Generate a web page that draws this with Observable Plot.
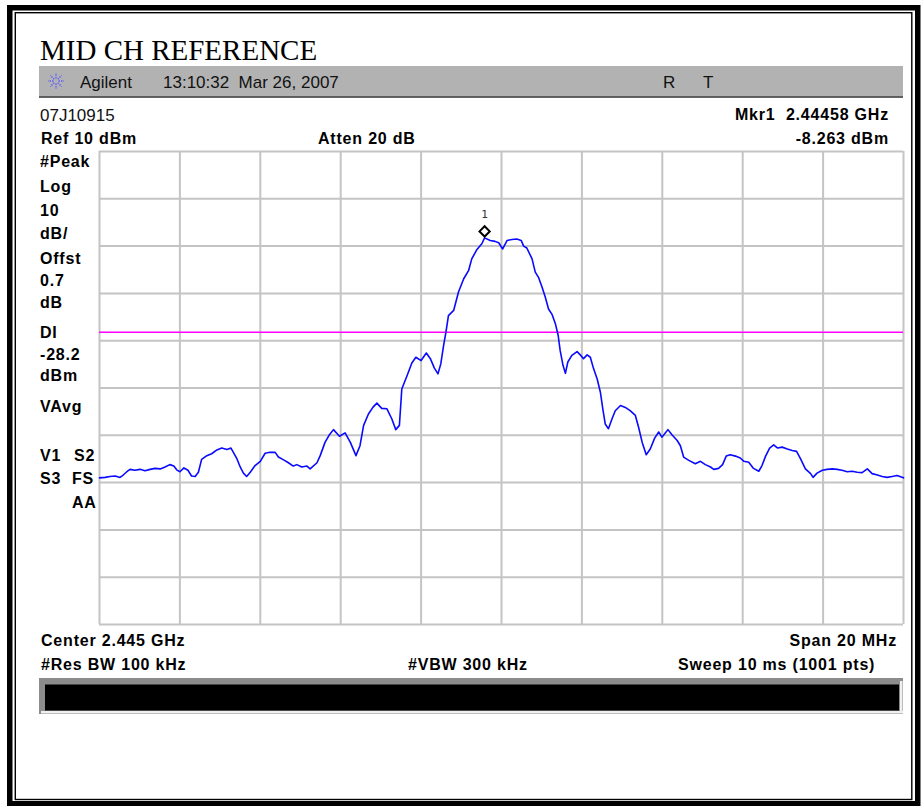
<!DOCTYPE html>
<html><head><meta charset="utf-8">
<script src="https://cdn.jsdelivr.net/npm/d3@7"></script>
<script src="https://cdn.jsdelivr.net/npm/@observablehq/plot@0.6"></script>
<style>
body{margin:0;background:#fff}
#page{position:relative;width:923px;height:806px;overflow:hidden;background:#fff}
#chart{position:absolute;left:0;top:140px}
#overlay{position:absolute;left:0;top:0}
</style>
</head><body>
<div id="page"><div id="chart"></div><svg id="overlay" width="923" height="806"></svg></div>
<script>
// ---- data ----
const freqMHz = [
2435.00,2435.14,2435.26,2435.39,2435.51,2435.59,2435.68,2435.76,2435.88,2436.01,
2436.13,2436.26,2436.38,2436.51,2436.63,2436.75,2436.85,2436.92,2437.00,2437.10,
2437.20,2437.29,2437.38,2437.46,2437.54,2437.67,2437.79,2437.92,2438.04,2438.17,
2438.27,2438.33,2438.42,2438.50,2438.58,2438.66,2438.75,2438.87,2439.00,2439.12,
2439.24,2439.37,2439.45,2439.58,2439.70,2439.82,2439.91,2440.03,2440.16,2440.24,
2440.41,2440.49,2440.61,2440.71,2440.82,2440.97,2441.11,2441.24,2441.38,2441.48,
2441.57,2441.69,2441.80,2441.90,2442.02,2442.15,2442.27,2442.37,2442.46,2442.52,
2442.65,2442.77,2442.87,2443.00,2443.13,2443.23,2443.33,2443.42,2443.49,2443.56,
2443.62,2443.68,2443.81,2443.93,2444.06,2444.18,2444.26,2444.39,2444.51,2444.58,
2444.72,2444.84,2444.93,2445.03,2445.14,2445.26,2445.38,2445.49,2445.55,2445.63,
2445.76,2445.84,2445.92,2446.01,2446.09,2446.17,2446.26,2446.34,2446.41,2446.46,
2446.53,2446.59,2446.65,2446.75,2446.88,2446.96,2447.04,2447.13,2447.21,2447.29,
2447.38,2447.46,2447.52,2447.58,2447.66,2447.75,2447.83,2447.96,2448.08,2448.20,
2448.33,2448.41,2448.50,2448.60,2448.70,2448.81,2448.91,2448.99,2449.14,2449.24,
2449.37,2449.45,2449.53,2449.66,2449.82,2449.95,2450.07,2450.20,2450.28,2450.40,
2450.50,2450.59,2450.69,2450.82,2450.94,2451.03,2451.15,2451.27,2451.40,2451.48,
2451.57,2451.67,2451.77,2451.87,2451.98,2452.11,2452.23,2452.34,2452.44,2452.56,
2452.69,2452.75,2452.85,2452.98,2453.10,2453.23,2453.35,2453.47,2453.60,2453.72,
2453.85,2453.97,2454.10,2454.22,2454.35,2454.47,2454.59,2454.72,2454.84,2455.00];
const levelDbm = [
-59.0,-58.9,-58.7,-58.6,-58.9,-58.4,-57.7,-57.2,-57.4,-57.2,
-57.5,-57.2,-57.0,-57.1,-56.7,-56.2,-56.5,-57.3,-57.7,-56.9,
-57.4,-58.6,-58.7,-57.8,-55.1,-54.3,-53.9,-53.1,-52.7,-53.0,
-52.7,-53.6,-55.0,-56.7,-58.0,-58.7,-57.8,-56.4,-55.5,-53.8,
-53.6,-53.6,-54.6,-55.2,-55.8,-56.5,-56.2,-56.7,-56.5,-57.1,
-55.8,-54.3,-51.5,-50.0,-48.8,-50.2,-49.5,-51.5,-54.3,-52.2,
-47.9,-45.5,-44.1,-43.2,-44.3,-44.4,-46.5,-48.8,-47.9,-40.2,
-37.4,-34.7,-33.5,-34.2,-32.6,-33.8,-35.8,-37.0,-34.9,-31.0,
-28.1,-24.7,-23.6,-19.7,-16.9,-15.2,-12.7,-10.7,-9.5,-8.26,
-8.8,-9.0,-9.3,-10.6,-8.8,-8.6,-8.5,-8.8,-10.0,-10.4,
-12.7,-15.5,-16.6,-18.7,-20.8,-23.3,-24.5,-26.4,-28.9,-32.1,
-35.2,-36.9,-34.5,-33.1,-32.3,-33.0,-33.8,-33.0,-33.5,-35.9,
-38.1,-40.9,-44.4,-47.6,-48.6,-46.5,-44.8,-43.7,-44.1,-44.8,
-45.8,-48.3,-51.5,-54.1,-52.9,-50.6,-49.3,-50.4,-48.8,-49.9,
-51.1,-52.2,-54.6,-55.3,-56.0,-55.5,-56.2,-56.7,-57.2,-57.0,
-56.2,-54.4,-54.1,-54.4,-54.8,-55.5,-55.7,-57.0,-57.6,-56.4,
-54.4,-52.7,-52.0,-52.7,-52.5,-52.9,-53.2,-53.4,-55.0,-57.1,
-58.1,-58.9,-58.0,-57.4,-57.2,-57.1,-57.2,-57.4,-57.7,-57.6,
-57.8,-57.9,-57.1,-58.1,-58.4,-58.7,-58.9,-58.7,-58.5,-59.0];
const xGridMHz = [2435,2437,2439,2441,2443,2445,2447,2449,2451,2453,2455];
const yGridDbm = [10,0,-10,-20,-30,-40,-50,-60,-70,-80,-90];
const displayLineDbm = [-28.2];
const markerFreqMHz = [2444.58];
const markerLevelDbm = [-8.263];
const markerNames = ["1"];

const titleText = "MID CH REFERENCE";
const headerTexts = ["Agilent", "13:10:32  Mar 26, 2007", "R", "T"];
const infoTexts = ["07J10915", "Mkr1  2.44458 GHz", "Ref 10 dBm", "Atten 20 dB", "-8.263 dBm"];
const sideLabels = ["#Peak","Log","10","dB/","Offst","0.7","dB","DI","-28.2","dBm","VAvg","V1","S2","S3","FS","AA"];
const footerTexts = ["Center 2.445 GHz", "Span 20 MHz", "#Res BW 100 kHz", "#VBW 300 kHz", "Sweep 10 ms (1001 pts)"];

// ---- chart ----
const trace = freqMHz.map((f, i) => ({f, dbm: levelDbm[i]}));
const marker = markerFreqMHz.map((f, i) => ({f, dbm: markerLevelDbm[i], name: markerNames[i]}));

const chart = Plot.plot({
  width: 923, height: 500,
  marginLeft: 99, marginRight: 20, marginTop: 11, marginBottom: 16,
  style: {background: "transparent", overflow: "visible"},
  x: {domain: [2435, 2455], axis: null},
  y: {domain: [-90, 10], axis: null},
  marks: [
    Plot.ruleX(xGridMHz, {stroke: "#c4c4c4", strokeWidth: 2}),
    Plot.ruleY(yGridDbm, {stroke: "#c4c4c4", strokeWidth: 2}),
    Plot.ruleY(displayLineDbm, {stroke: "#ff00ff", strokeWidth: 1.5}),
    Plot.line(trace, {x: "f", y: "dbm", stroke: "#0a0aff", strokeWidth: 1.6}),
    Plot.dot(marker, {x: "f", y: "dbm", symbol: "diamond2", r: 4.6, stroke: "#000", strokeWidth: 2, fill: "#fff", dy: -6.5}),
    Plot.text(marker, {x: "f", y: "dbm", text: "name", dy: -23, fontSize: 11, fill: "#333", fontFamily: "DejaVu Sans Mono"})
  ]
});
document.getElementById("chart").appendChild(chart);

// ---- page decorations and text ----
const svg = d3.select("#overlay");
// document double border
svg.append("rect").attr("x", 9.75).attr("y", 7.75).attr("width", 908).attr("height", 796)
  .attr("fill", "none").attr("stroke", "#000").attr("stroke-width", 5.5);
svg.append("rect").attr("x", 15.3).attr("y", 12.7).attr("width", 896.5).attr("height", 786.8)
  .attr("fill", "none").attr("stroke", "#000").attr("stroke-width", 1.4);
// header bar
svg.append("rect").attr("x", 39).attr("y", 66).attr("width", 864).attr("height", 30.5).attr("fill", "#b2b2b2");
svg.append("line").attr("x1", 39).attr("x2", 903).attr("y1", 97).attr("y2", 97).attr("stroke", "#333").attr("stroke-width", 1.5);
// Agilent logo burst
const logo = svg.append("g").attr("transform", "translate(56,81)");
d3.range(8).forEach(k => {
  const a = k * Math.PI / 4;
  logo.append("line").attr("x1", 2.5 * Math.cos(a)).attr("y1", 2.5 * Math.sin(a))
    .attr("x2", 8 * Math.cos(a)).attr("y2", 8 * Math.sin(a))
    .attr("stroke", "#5a5aff").attr("stroke-width", 1.3).attr("stroke-dasharray", "1.4,1.1");
});
// bottom status bar
svg.append("rect").attr("x", 39).attr("y", 678).attr("width", 864).attr("height", 36).attr("fill", "#8c8c8c");
svg.append("rect").attr("x", 41).attr("y", 711).attr("width", 862).attr("height", 2.5).attr("fill", "#f0f0f0");
svg.append("rect").attr("x", 900).attr("y", 681).attr("width", 2.5).attr("height", 32).attr("fill", "#f0f0f0");
svg.append("rect").attr("x", 45).attr("y", 684.5).attr("width", 854).attr("height", 26).attr("fill", "#000");

function txt(t, x, y, o = {}) {
  svg.append("text").attr("x", x).attr("y", y).text(t)
    .attr("font-family", o.family || "'Liberation Sans', Arial, sans-serif")
    .attr("font-size", o.size || 16)
    .attr("font-weight", o.weight || "bold")
    .attr("letter-spacing", o.ls != null ? o.ls : 0.8)
    .attr("text-anchor", o.anchor || "start")
    .attr("fill", o.fill || "#000")
    .style("white-space", "pre");
}
const reg = {weight: "normal", size: 17, ls: 0, fill: "#111"};
txt(titleText, 40, 60, {family: "'Liberation Serif', 'Times New Roman', serif", size: 29, weight: "normal", ls: 0});
txt(headerTexts[0], 80, 88, reg);
txt(headerTexts[1], 163, 88, reg);
txt(headerTexts[2], 663, 88, reg);
txt(headerTexts[3], 703, 88, reg);
txt(infoTexts[0], 40, 120.5, reg);
txt(infoTexts[1], 889, 120, {anchor: "end"});
txt(infoTexts[2], 41, 144);
txt(infoTexts[3], 318, 144);
txt(infoTexts[4], 889, 143.5, {anchor: "end"});

const sideX = [40,40,40,40,40,40,40,40,40,40,40,40,74,40,72,72];
const sideY = [167.3,191.7,215.7,239.3,264.3,286,308.3,338.3,360,381,412.3,460.7,460.7,484.3,484.3,508.3];
sideLabels.forEach((t, i) => txt(t, sideX[i], sideY[i]));

txt(footerTexts[0], 41, 646);
txt(footerTexts[1], 897, 646, {anchor: "end"});
txt(footerTexts[2], 41, 670);
txt(footerTexts[3], 408, 670);
txt(footerTexts[4], 678, 670);
</script>
</body></html>
